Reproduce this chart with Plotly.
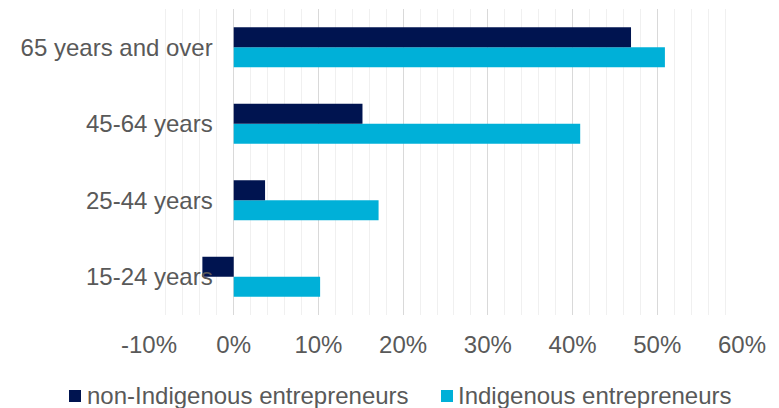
import plotly.graph_objects as go

# Age bands (bottom to top) and share values in percent
age_groups = ["15-24 years", "25-44 years", "45-64 years", "65 years and over"]
non_indigenous = [-3.7, 3.7, 15.2, 46.9]
indigenous = [10.2, 17.1, 40.9, 50.9]
x_tick_values = [-10, 0, 10, 20, 30, 40, 50, 60]

series_names = ["non-Indigenous entrepreneurs", "Indigenous entrepreneurs"]

NAVY = "#001450"
CYAN = "#00B0D8"
GREY_TEXT = "#595959"
FONT = "Liberation Sans, Arial, sans-serif"

x_min, x_max = -10, 60
W, H = 779, 408
margin = dict(l=149, r=37, t=9, b=93, autoexpand=False)
plot_w = W - margin["l"] - margin["r"]
plot_h = H - margin["t"] - margin["b"]


def px_to_paper_x(px):
    return (px - margin["l"]) / plot_w


def px_to_paper_y(py):
    return (H - margin["b"] - py) / plot_h


fig = go.Figure()
# Indigenous first so that it sits below the non-Indigenous bar within each group
fig.add_trace(go.Bar(
    y=age_groups, x=indigenous, orientation="h",
    name=series_names[1], marker=dict(color=CYAN, line=dict(width=0)),
    showlegend=False,
))
fig.add_trace(go.Bar(
    y=age_groups, x=non_indigenous, orientation="h",
    name=series_names[0], marker=dict(color=NAVY, line=dict(width=0)),
    showlegend=False,
))

# Legend row below the plot: square swatch followed by the series name
legend_entries = [
    (series_names[0], NAVY, 69, 86),
    (series_names[1], CYAN, 441, 457),
]
swatch = 12
legend_mid_y = 396
for name, color, sw_left, text_left in legend_entries:
    fig.add_shape(
        type="rect", xref="paper", yref="paper",
        x0=px_to_paper_x(sw_left), x1=px_to_paper_x(sw_left + swatch),
        y0=px_to_paper_y(legend_mid_y - swatch / 2), y1=px_to_paper_y(legend_mid_y + swatch / 2),
        fillcolor=color, line=dict(width=0), layer="above",
    )
    fig.add_annotation(
        xref="paper", yref="paper",
        x=px_to_paper_x(text_left), y=px_to_paper_y(legend_mid_y - 0.5),
        xanchor="left", yanchor="middle",
        text=name, showarrow=False, borderpad=0,
        font=dict(family=FONT, size=24, color=GREY_TEXT),
    )

# y axis drawn where x = 0
y_axis_pos = (0 - x_min) / (x_max - x_min)

fig.update_layout(
    width=W, height=H,
    margin=margin,
    paper_bgcolor="white", plot_bgcolor="white",
    font=dict(family=FONT, size=24, color=GREY_TEXT),
    barmode="group", bargap=0.477, bargroupgap=0,
    showlegend=False,
    xaxis=dict(
        range=[x_min, x_max],
        tickvals=x_tick_values,
        ticktext=[f"{v}%" for v in x_tick_values],
        showgrid=True, gridcolor="#d9d9d9", gridwidth=1,
        zeroline=False, showline=False, ticks="",
        ticklabelstandoff=13,
        minor=dict(dtick=2, showgrid=True, gridcolor="#f0f0f0", gridwidth=1),
        automargin=False, fixedrange=True,
    ),
    yaxis=dict(
        categoryorder="array", categoryarray=age_groups,
        anchor="free", position=y_axis_pos,
        showgrid=False, zeroline=False, showline=False, ticks="",
        ticklabelstandoff=21,
        automargin=False, fixedrange=True,
    ),
)

fig.write_html("out.html")
